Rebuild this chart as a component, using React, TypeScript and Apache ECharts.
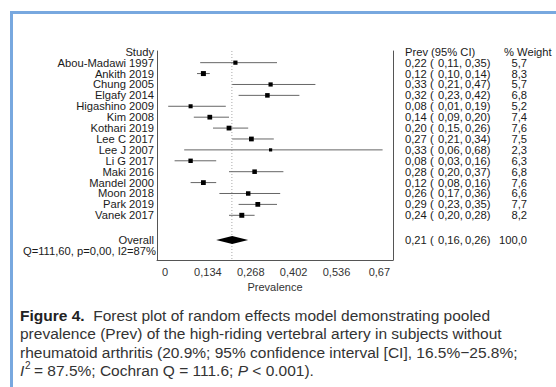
import React, { useEffect, useRef } from "react";
import * as echarts from "echarts";

const studies = [
  "Abou-Madawi 1997", "Ankith 2019", "Chung 2005", "Elgafy 2014", "Higashino 2009",
  "Kim 2008", "Kothari 2019", "Lee C 2017", "Lee J 2007", "Li G 2017",
  "Maki 2016", "Mandel 2000", "Moon 2018", "Park 2019", "Vanek 2017",
];
const prevalence = [0.22, 0.12, 0.33, 0.32, 0.08, 0.14, 0.20, 0.27, 0.33, 0.08, 0.28, 0.12, 0.26, 0.29, 0.24];
const lowerCI = [0.11, 0.10, 0.21, 0.23, 0.01, 0.09, 0.15, 0.21, 0.06, 0.03, 0.20, 0.08, 0.17, 0.23, 0.20];
const upperCI = [0.35, 0.14, 0.47, 0.42, 0.19, 0.20, 0.26, 0.34, 0.68, 0.16, 0.37, 0.16, 0.36, 0.35, 0.28];
const weights = [5.7, 8.3, 5.7, 6.8, 5.2, 7.4, 7.6, 7.5, 2.3, 6.3, 6.8, 7.6, 6.6, 7.7, 8.2];
const overall = { label: "Overall", est: 0.21, lo: 0.16, hi: 0.26, weight: 100.0 };
const pooledLine = 0.209;
const overallRow = 16.27;
const heterogeneity = "Q=111,60, p=0,00, I2=87%";
const xTicks = [0, 0.134, 0.268, 0.402, 0.536, 0.67];
const yMin = -1.07;
const yMax = 18.1;

const FONT = "Liberation Sans, Arial, sans-serif";
const TXT = "#1a1a1a";

const fmt2 = (v: number) => v.toFixed(2).replace(".", ",");
const fmt1 = (v: number) => v.toFixed(1).replace(".", ",");

export default function App() {
  const ref = useRef<HTMLDivElement>(null);
  useEffect(() => {
    document.body.style.margin = "0";
    const chart = echarts.init(ref.current!, null, { renderer: "svg" });

    const rows: any[] = studies.map((s, i) => [i, prevalence[i], lowerCI[i], upperCI[i], weights[i], 0]);
    rows.push([overallRow, overall.est, overall.lo, overall.hi, overall.weight, 1]);
    const names = [...studies, overall.label];

    const txt = (x: number, y: number, text: string, align: string, extra: any = {}) => ({
      type: "text",
      style: {
        x, y, text, fill: TXT, fontFamily: FONT, fontSize: 11.2,
        align, textAlign: align, verticalAlign: "middle", textVerticalAlign: "middle",
        ...extra,
      },
    });

    const renderItem = (params: any, api: any) => {
      const i = api.value(0);
      const est = api.value(1);
      const lo = api.value(2);
      const hi = api.value(3);
      const w = api.value(4);
      const kind = api.value(5);
      const [xe, y] = api.coord([est, i]);
      const [xl] = api.coord([lo, i]);
      const [xh] = api.coord([hi, i]);
      const children: any[] = [];
      if (kind === 0) {
        children.push({
          type: "line",
          shape: { x1: xl, y1: y, x2: xh, y2: y },
          style: { stroke: "#666", lineWidth: 1 },
        });
        const s = 2.5 + 0.3 * w;
        children.push({
          type: "rect",
          shape: { x: xe - s / 2, y: y - s / 2, width: s, height: s },
          style: { fill: "#000" },
        });
      } else {
        children.push({
          type: "polygon",
          shape: { points: [[xl, y], [xe, y - 4], [xh, y], [xe, y + 4]] },
          style: { fill: "#000" },
        });
        children.push(txt(156, y + 11, heterogeneity, "right"));
      }
      children.push(txt(154, y, names[params.dataIndex], "right"));
      children.push(txt(405, y, fmt2(est), "left"));
      children.push(txt(430, y, "(", "left"));
      children.push(txt(438, y, fmt2(lo) + ",", "left"));
      children.push(txt(465, y, fmt2(hi) + ")", "left"));
      children.push(txt(527, y, fmt1(w), "right"));
      return { type: "group", children };
    };

    const CAP = 15.5;
    const capText = (x: number, y: number, text: string, rich?: any, size = CAP) => ({
      type: "text",
      left: x,
      top: y,
      style: { text, fill: "#333", fontFamily: FONT, fontSize: size, rich },
    });
    const italic = { fontStyle: "italic", fill: "#333", fontFamily: FONT, fontSize: CAP };

    chart.setOption({
      animation: false,
      backgroundColor: "#fff",
      grid: { left: 157, right: 163, top: 51, bottom: 127 },
      xAxis: {
        type: "value",
        min: -0.025,
        max: 0.7125,
        axisLine: { show: true, onZero: false, lineStyle: { color: "#555", width: 1 } },
        axisTick: { show: false },
        splitLine: { show: false },
        axisLabel: {
          customValues: xTicks,
          color: "#333",
          fontFamily: FONT,
          fontSize: 11,
          margin: 6,
          formatter: (v: number) => (v === 0 ? "0" : String(v).replace(".", ",")),
        },
        name: "Prevalence",
        nameLocation: "middle",
        nameGap: 16,
        nameTextStyle: { color: "#333", fontFamily: FONT, fontSize: 11 },
      },
      yAxis: [
        {
          type: "value",
          inverse: true,
          min: yMin,
          max: yMax,
          axisLine: { show: true, onZero: false, lineStyle: { color: "#555", width: 1 } },
          axisTick: { show: false },
          axisLabel: { show: false },
          splitLine: { show: false },
        },
        {
          type: "value",
          position: "right",
          inverse: true,
          min: yMin,
          max: yMax,
          axisLine: { show: true, onZero: false, lineStyle: { color: "#555", width: 1 } },
          axisTick: { show: false },
          axisLabel: { show: false },
          splitLine: { show: false },
        },
      ],
      series: [
        {
          type: "line",
          data: [[pooledLine, yMin], [pooledLine, yMax]],
          symbol: "none",
          silent: true,
          lineStyle: { color: "#aaa", type: [1, 2], width: 1 },
          z: 1,
        },
        {
          type: "custom",
          clip: false,
          renderItem,
          encode: { x: [1, 2, 3], y: 0 },
          data: rows,
          z: 2,
        },
      ],
      graphic: [
        { type: "rect", shape: { x: 10, y: 11, width: 3, height: 376 }, style: { fill: "#78a8df" } },
        { type: "rect", shape: { x: 10, y: 11, width: 546, height: 3 }, style: { fill: "#78a8df" } },
        txt(154, 52, "Study", "right"),
        txt(405, 52, "Prev (95% CI)", "left"),
        txt(504, 52, "% Weight", "left"),
        capText(20, 307, "{b|Figure 4.}  Forest plot of random effects model demonstrating pooled", {
          b: { fontWeight: "bold", fill: "#222", fontFamily: FONT, fontSize: CAP },
        }),
        capText(20, 325.5, "prevalence (Prev) of the high-riding vertebral artery in subjects without"),
        capText(20, 344, "rheumatoid arthritis (20.9%; 95% confidence interval [CI], 16.5%\u221225.8%;"),
        capText(20, 362.5, "{i|I}", { i: italic }),
        capText(25, 360, "2", undefined, 10),
        capText(34, 362.5, "= 87.5%; Cochran Q = 111.6; {i|P} < 0.001).", { i: italic }),
      ],
    });
    return () => chart.dispose();
  }, []);
  return <div ref={ref} style={{ position: "absolute", left: 0, top: 0, width: 556, height: 387 }} />;
}
